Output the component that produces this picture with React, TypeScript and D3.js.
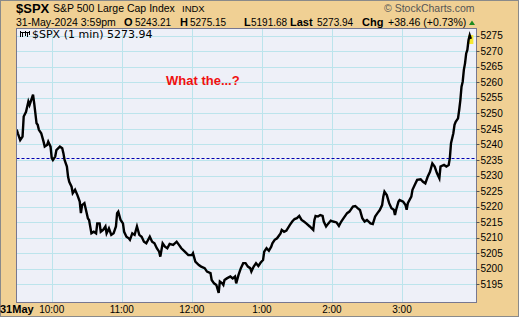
import React from "react";
import * as d3 from "d3";

// minutes after 9:30 ET
const minutes = [0,1,3,5,6,8,10,11,13,14,15,17,18,19,21,23,24,26,27,29,30,31,33,34,37,39,40,41,43,44,45,47,48,50,52,54,55,56,58,59,61,62,64,66,68,69,71,72,74,76,77,79,81,83,85,86,87,89,91,92,94,96,97,99,101,103,105,107,109,111,114,116,118,120,122,123,125,127,129,131,134,137,139,141,144,147,150,151,153,156,158,161,163,166,167,169,171,173,174,176,177,178,180,183,185,187,188,190,192,194,196,198,200,201,203,205,207,209,211,212,214,216,218,219,221,223,226,227,229,231,234,236,238,240,242,244,246,248,251,254,255,256,258,260,262,263,265,267,269,271,274,276,278,280,283,285,288,290,292,294,296,298,300,303,305,307,309,311,313,314,315,317,319,321,323,324,325,327,328,331,333,334,335,338,339,341,343,346,348,350,352,354,356,358,360,362,363,366,368,370,371,372,374,375,376,378,379,380,381,382,383,384,385,386,387,388,389];
const closes = [5244.8,5243.6,5241.4,5242.5,5249,5250.5,5253.8,5252.7,5254.9,5256,5253.2,5246.8,5246.3,5244.7,5243.6,5240.9,5239.3,5239.8,5240.9,5239.3,5235.6,5235,5236.1,5238.2,5239.3,5238.8,5237.2,5235,5232.9,5229.6,5228,5226.4,5224.3,5225.4,5223.7,5221.6,5217.9,5220.5,5221.1,5219.5,5216.2,5215.7,5211.4,5211.9,5211.4,5214.6,5214.6,5211.9,5212.5,5213.6,5211.4,5213,5210.9,5211.4,5213.6,5217.9,5218.4,5215.7,5214.6,5211.9,5210.3,5209.8,5209.3,5211.4,5210.9,5213.6,5210.9,5210.3,5208.7,5208.2,5210.3,5208.7,5208.2,5206.6,5205.5,5203.9,5208.2,5207.1,5206.6,5208,5207.7,5208.7,5207.7,5206.6,5205.5,5204.4,5204.4,5205,5202.3,5201.2,5200.7,5200.2,5199.1,5198.6,5196.4,5195.3,5194.8,5192.2,5195.9,5195.3,5194.8,5196.4,5196.9,5197.5,5196.9,5197.5,5195.3,5198,5200.2,5201.8,5201.8,5200.7,5200.2,5199.1,5200.7,5201.8,5200.9,5202,5202.8,5205.5,5206.6,5205.8,5207.1,5208.2,5209.3,5209.8,5211.4,5212.5,5211.9,5212.3,5214.1,5215.2,5216,5216.3,5217,5215.7,5215.2,5214.6,5213.6,5212.5,5215.7,5217,5216.8,5217.3,5217,5215.2,5213.6,5214.6,5215.5,5215.2,5214.9,5213.8,5215.2,5216.3,5217.9,5218.4,5220,5220.2,5219.5,5218.9,5216.3,5215.2,5215.7,5214.6,5214.4,5216.8,5217.9,5218.9,5220.5,5223.2,5224.8,5223.7,5221.1,5219.5,5219,5217.3,5219,5221.6,5222.1,5221.6,5220.5,5219,5221.1,5223.2,5225.4,5227,5228.6,5228.8,5228,5227.5,5229.6,5231.2,5233.9,5232.9,5230.7,5229.1,5232.9,5233.4,5232.9,5233.4,5235.6,5240.4,5243.6,5246.3,5247.3,5248.4,5251.1,5254.3,5258.6,5260.2,5264,5266.1,5269.3,5270.4,5273.6,5275.1,5273.94];

const yTicks = [5195,5200,5205,5210,5215,5220,5225,5230,5235,5240,5245,5250,5255,5260,5265,5270,5275];
const hourMinutes = [30,90,150,210,270,330];
const hourLabels = ["10:00","11:00","12:00","1:00","2:00","3:00"];
const prevClose = 5235.48;

const SANS = "'Liberation Sans', Arial, sans-serif";

export default function App() {
  const L = 16.5, R = 476.5, T = 28.5, B = 302.5;
  const x = d3.scaleLinear().domain([0, 394]).range([16.7, 476.7]);
  const y = d3.scaleLinear().domain([5195, 5275]).range([284.3, 35.7]);
  const path = d3.line<number>().x((_, i) => x(minutes[i])).y((d) => y(d))(closes) || "";
  const lastX = x(minutes[minutes.length - 1]);
  const lastY = y(closes[closes.length - 1]);
  const snap = (v: number) => Math.round(v) + 0.5;

  return (
    <svg width={525} height={319} style={{ position: "fixed", left: 0, top: 0, background: "#fff" }} fontFamily={SANS}>
      <rect x={0.5} y={0.5} width={518} height={316} fill="#F0D094" stroke="#8a8a8a" />
      <defs>
        <clipPath id="plot"><rect x={L} y={T} width={R - L} height={B - T} /></clipPath>
      </defs>
      <rect x={L} y={T} width={R - L} height={B - T} fill="#EEF0F8" />
      <g clipPath="url(#plot)">
        {yTicks.map((v) => (
          <line key={v} x1={L} x2={R} y1={snap(y(v))} y2={snap(y(v))} stroke="#BCE4EC" strokeWidth={1} />
        ))}
        {hourMinutes.map((m) => (
          <line key={m} x1={snap(x(m))} x2={snap(x(m))} y1={T} y2={B} stroke="#BCE4EC" strokeWidth={1} />
        ))}
        <line x1={L} x2={R} y1={y(prevClose)} y2={y(prevClose)} stroke="#0000B0" strokeWidth={1.2} strokeDasharray="3,2" />
        <rect x={lastX - 2.5} y={lastY - 4} width={5} height={9} fill="#F5E830" />
        <path d={path} fill="none" stroke="#000" strokeWidth={2.4} strokeLinejoin="miter" />
      </g>
      <rect x={L} y={T} width={R - L} height={B - T} fill="none" stroke="#777790" strokeWidth={1} />
      {/* right axis */}
      {yTicks.map((v) => (
        <g key={v}>
          <line x1={R} x2={R + 3} y1={snap(y(v))} y2={snap(y(v))} stroke="#555" />
          <text x={R + 4} y={y(v) + 3.6} fontSize={10} fill="#000">{v}</text>
        </g>
      ))}
      {/* bottom axis */}
      <text x={0} y={312.5} fontSize={11} fontWeight="bold" fill="#000">31May</text>
      {hourMinutes.map((m, i) => (
        <text key={m} x={x(m)} y={312.5} fontSize={10} textAnchor="middle" fill="#000">{hourLabels[i]}</text>
      ))}
      {/* header */}
      <text x={16} y={12.5} fontSize={13} fontWeight="bold" fill="#000">$SPX</text>
      <text x={53} y={12} fontSize={10.5} fill="#000">S&amp;P 500 Large Cap Index</text>
      <text x={182} y={12} fontSize={9.5} fill="#000">INDX</text>
      <text x={384} y={12} fontSize={10.5} fill="#555">© StockCharts.com</text>
      <g fontSize={10} fill="#000">
        <text x={16} y={26} fontSize={10.5}>31-May-2024 3:59pm</text>
        <text x={124} y={26} fontWeight="bold" fontSize={11}>O</text>
        <text x={135} y={26}>5243.21</text>
        <text x={180} y={26} fontWeight="bold" fontSize={11}>H</text>
        <text x={190} y={26}>5275.15</text>
        <text x={244} y={26} fontWeight="bold" fontSize={11}>L</text>
        <text x={251} y={26}>5191.68</text>
        <text x={290} y={26} fontWeight="bold" fontSize={11}>Last</text>
        <text x={317} y={26}>5273.94</text>
        <text x={362} y={26} fontWeight="bold" fontSize={11}>Chg</text>
        <text x={388} y={26} fontSize={10.5}>+38.46 (+0.73%)</text>
      </g>
      <path d="M469,25 L472,20.5 L475,25 Z" fill="#1E8B1E" />
      {/* legend */}
      <g stroke="#000" strokeWidth={1}>
        <line x1={20.5} x2={20.5} y1={31} y2={37} />
        <line x1={22.5} x2={22.5} y1={32} y2={37} />
        <line x1={25.5} x2={25.5} y1={31} y2={36} />
        <line x1={27.5} x2={27.5} y1={32} y2={37} />
        <line x1={29.5} x2={29.5} y1={31} y2={35} />
        <line x1={20} x2={30} y1={32.5} y2={32.5} />
      </g>
      <text x={32} y={37.5} fontSize={11} fontFamily="'DejaVu Sans', Verdana, sans-serif" fill="#000">$SPX (1 min) 5273.94</text>
      <text x={166} y={85} fontSize={13} fontWeight="bold" fill="#F01010">What the...?</text>
    </svg>
  );
}
